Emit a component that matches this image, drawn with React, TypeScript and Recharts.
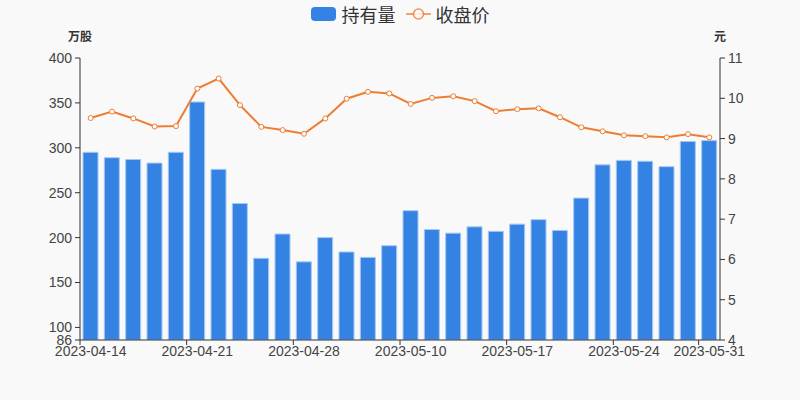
import { ComposedChart, Bar, Line, XAxis, YAxis } from "recharts"

const dates = [
  "2023-04-14", "2023-04-17", "2023-04-18", "2023-04-19", "2023-04-20",
  "2023-04-21", "2023-04-24", "2023-04-25", "2023-04-26", "2023-04-27",
  "2023-04-28", "2023-05-04", "2023-05-05", "2023-05-08", "2023-05-09",
  "2023-05-10", "2023-05-11", "2023-05-12", "2023-05-15", "2023-05-16",
  "2023-05-17", "2023-05-18", "2023-05-19", "2023-05-22", "2023-05-23",
  "2023-05-24", "2023-05-25", "2023-05-26", "2023-05-29", "2023-05-31",
]

// 持有量 (万股)
const holdings = [
  295, 289, 287, 283, 295, 351, 276, 238, 177, 204,
  173, 200, 184, 178, 191, 230, 209, 205, 212, 207,
  215, 220, 208, 244, 281, 286, 285, 279, 307, 308,
]

// 收盘价 (元)
const closePrice = [
  9.51, 9.67, 9.5, 9.3, 9.31, 10.24, 10.49, 9.83, 9.29, 9.21,
  9.12, 9.5, 9.99, 10.16, 10.12, 9.86, 10.01, 10.05, 9.93, 9.68,
  9.73, 9.75, 9.53, 9.28, 9.18, 9.08, 9.06, 9.03, 9.11, 9.03,
]

const leftTicks = [86, 100, 150, 200, 250, 300, 350, 400]
const rightTicks = [4, 5, 6, 7, 8, 9, 10, 11]

const data = dates.map((date, i) => ({
  date,
  holdings: holdings[i],
  close: closePrice[i],
}))

const W = 800
const H = 400
const margin = { top: 58, right: 20, bottom: 30, left: 20 }
const yAxisWidth = 60
const plotWidth = W - margin.left - margin.right - yAxisWidth * 2
const band = plotWidth / data.length

const barColor = "#3483e4"
const lineColor = "#ee7d32"
const axisColor = "#333"
const textColor = "#444"
const font = "'Liberation Sans', 'Noto Sans CJK SC', sans-serif"

function DateTick(props: any) {
  const { x, y, payload, index } = props
  const i = payload?.index ?? index
  const show = i % 5 === 0 || i === data.length - 1
  if (!show) return null
  const lx = x - band / 2
  return (
    <g>
      <line x1={lx} y1={y} x2={lx} y2={y + 5} stroke={axisColor} />
      <text
        x={x}
        y={y + 6}
        dy="0.71em"
        textAnchor="middle"
        fontSize={14}
        fill={textColor}
        fontFamily={font}
      >
        {payload.value}
      </text>
    </g>
  )
}

function AxisName(props: any) {
  const { viewBox, value, side } = props
  const x = side === "left" ? viewBox.x + viewBox.width : viewBox.x
  return (
    <text
      x={x}
      y={viewBox.y - 17}
      textAnchor="middle"
      fontSize={12}
      fontWeight="bold"
      fill="#333"
      fontFamily={font}
    >
      {value}
    </text>
  )
}

export default function App() {
  const tickStyle = { fontSize: 14, fill: textColor, fontFamily: font }
  return (
    <div
      style={{
        position: "absolute",
        left: 0,
        top: 0,
        width: W,
        height: H,
        background: "#f9f9f9",
        fontFamily: font,
      }}
    >
      <div
        style={{
          position: "absolute",
          top: 3,
          left: 0,
          width: W,
          display: "flex",
          justifyContent: "center",
          alignItems: "center",
          fontSize: 18,
          color: "#333",
          fontFamily: "'Noto Sans CJK SC', sans-serif",
        }}
      >
        <span
          style={{
            display: "inline-block",
            width: 25,
            height: 14,
            borderRadius: 4,
            background: barColor,
            marginRight: 6,
          }}
        />
        <span style={{ lineHeight: "22px" }}>持有量</span>
        <svg width={25} height={14} style={{ marginLeft: 10, marginRight: 5 }}>
          <line x1={0} y1={7} x2={25} y2={7} stroke={lineColor} strokeWidth={2} opacity={0.7} />
          <circle cx={12.5} cy={7} r={5} fill="#fff" stroke={lineColor} strokeWidth={1.5} opacity={0.8} />
        </svg>
        <span style={{ lineHeight: "22px" }}>收盘价</span>
      </div>
      <ComposedChart width={W} height={H} data={data} margin={margin}>
        <XAxis
          dataKey="date"
          interval={0}
          tickLine={false}
          tickSize={0}
          tickMargin={0}
          stroke={axisColor}
          tick={<DateTick />}
        />
        <YAxis
          yAxisId="left"
          orientation="left"
          width={yAxisWidth}
          domain={[86, 400]}
          ticks={leftTicks}
          interval={0}
          allowDataOverflow
          tickSize={5}
          tickMargin={3}
          stroke={axisColor}
          tick={tickStyle}
          label={<AxisName value="万股" side="left" />}
        />
        <YAxis
          yAxisId="right"
          orientation="right"
          width={yAxisWidth}
          domain={[4, 11]}
          ticks={rightTicks}
          interval={0}
          allowDataOverflow
          tickSize={5}
          tickMargin={3}
          stroke={axisColor}
          tick={tickStyle}
          label={<AxisName value="元" side="right" />}
        />
        <Bar
          yAxisId="left"
          dataKey="holdings"
          fill={barColor}
          stroke="#a6c8f2"
          strokeWidth={1}
          barSize={15}
          isAnimationActive={false}
        />
        <Line
          yAxisId="right"
          dataKey="close"
          type="linear"
          stroke={lineColor}
          strokeWidth={2}
          dot={{ r: 2.5, fill: "#fff", stroke: lineColor, strokeWidth: 1 }}
          activeDot={false}
          isAnimationActive={false}
        />
      </ComposedChart>
    </div>
  )
}
